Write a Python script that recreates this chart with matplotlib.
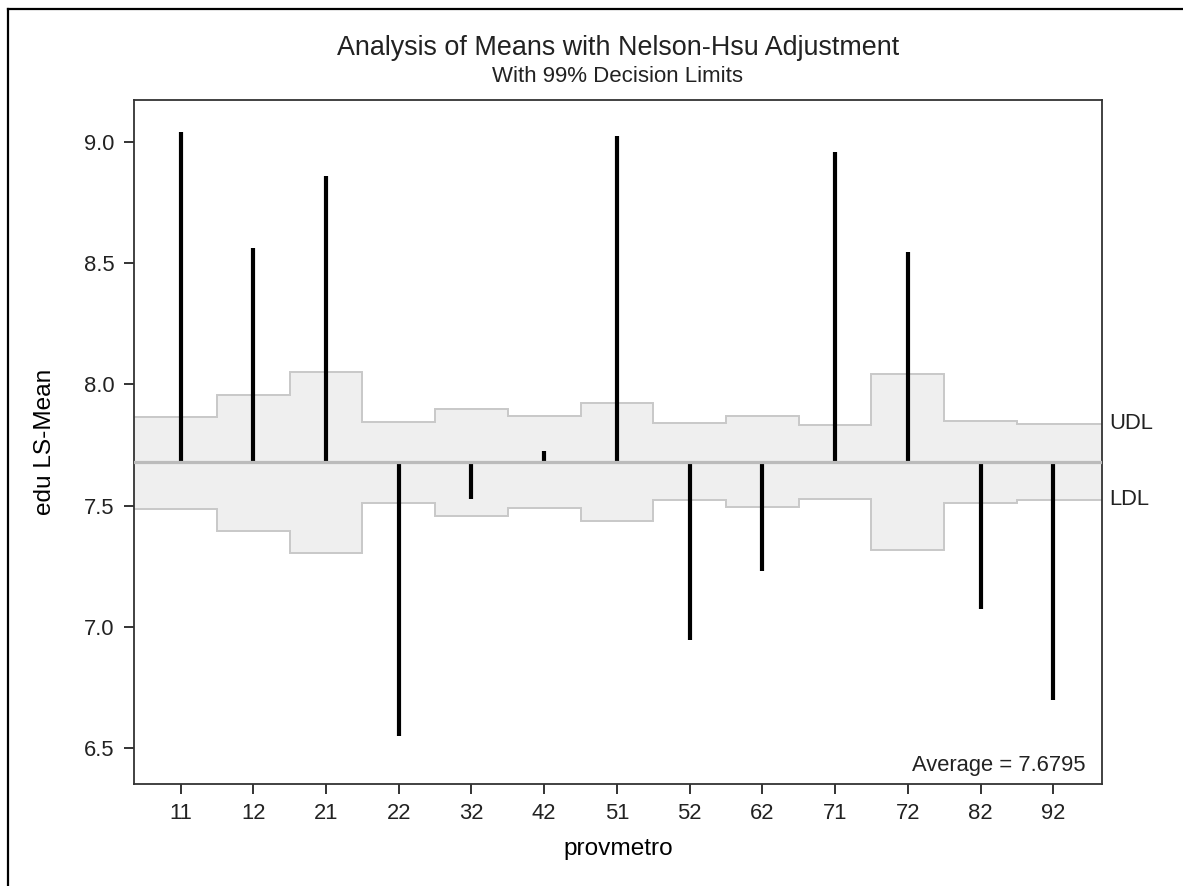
import matplotlib.pyplot as plt
import numpy as np

# provmetro groups, LS-means and 99% decision limits
cats = ["11", "12", "21", "22", "32", "42", "51", "52", "62", "71", "72", "82", "92"]
ls_means = [9.042, 8.561, 8.860, 6.548, 7.526, 7.727, 9.025, 6.944, 7.230, 8.957, 8.545, 7.074, 6.700]
udl = [7.866, 7.958, 8.050, 7.844, 7.900, 7.869, 7.922, 7.841, 7.869, 7.833, 8.043, 7.848, 7.837]
ldl = [7.487, 7.395, 7.306, 7.509, 7.457, 7.489, 7.436, 7.525, 7.493, 7.528, 7.319, 7.511, 7.525]
avg = 7.6795

plt.rcParams.update({"font.family": ["Liberation Sans", "DejaVu Sans"],
                     "font.size": 15.8, "text.color": "#222222"})

fig = plt.figure(figsize=(11.83, 8.86), dpi=100)
ax = fig.add_axes([0.1133, 0.1151, 0.8182, 0.772])

x = np.arange(len(cats))
edges = np.r_[-1, x[:-1] + 0.5, len(cats)]

# decision limit band
ax.stairs(udl, edges, baseline=ldl, fill=True, color="#efefef", lw=0, zorder=1)
ax.stairs(udl, edges, baseline=None, color="#c8c8c8", lw=1.4, zorder=2)
ax.stairs(ldl, edges, baseline=None, color="#c8c8c8", lw=1.4, zorder=2)

# needles from the overall average
ax.vlines(x, avg, ls_means, color="black", lw=3, zorder=3)
ax.axhline(avg, color="#bbbbbb", lw=2.3, zorder=4)

ax.set_xlim(-0.64, 12.67)
ax.set_ylim(6.352, 9.173)
ax.set_xticks(x)
ax.set_xticklabels(cats)
ax.set_yticks([6.5, 7.0, 7.5, 8.0, 8.5, 9.0])
ax.set_yticklabels(["6.5", "7.0", "7.5", "8.0", "8.5", "9.0"])
ax.tick_params(length=7.5, width=1.4, color="#333333", labelsize=15.8,
               labelcolor="#222222", pad=6.5)
for s in ax.spines.values():
    s.set_color("#333333")
    s.set_linewidth(1.3)

ax.set_xlabel("provmetro", fontsize=17.6, labelpad=10)
ax.set_ylabel("edu LS-Mean", fontsize=17.6, labelpad=20)

ax.annotate("Average = 7.6795", xy=(1, 0), xycoords="axes fraction",
            xytext=(-11.5, 9.5), textcoords="offset points",
            ha="right", va="baseline", fontsize=15.8)
ax.text(1.008, udl[-1], "UDL", transform=ax.get_yaxis_transform(),
        ha="left", va="center", fontsize=15.8)
ax.text(1.008, ldl[-1], "LDL", transform=ax.get_yaxis_transform(),
        ha="left", va="center", fontsize=15.8)

fig.text(0.5224, 1 - 55 / 886, "Analysis of Means with Nelson-Hsu Adjustment",
         ha="center", va="baseline", fontsize=19.4)
fig.text(0.5224, 1 - 82 / 886, "With 99% Decision Limits",
         ha="center", va="baseline", fontsize=16)

# window edge on the left and top
fig.add_artist(plt.Line2D([8 / 1183, 8 / 1183], [0, 1 - 9 / 886], color="black", lw=1.6))
fig.add_artist(plt.Line2D([8 / 1183, 1], [1 - 9 / 886, 1 - 9 / 886], color="black", lw=1.6))

fig.savefig("out.png", dpi=100)
